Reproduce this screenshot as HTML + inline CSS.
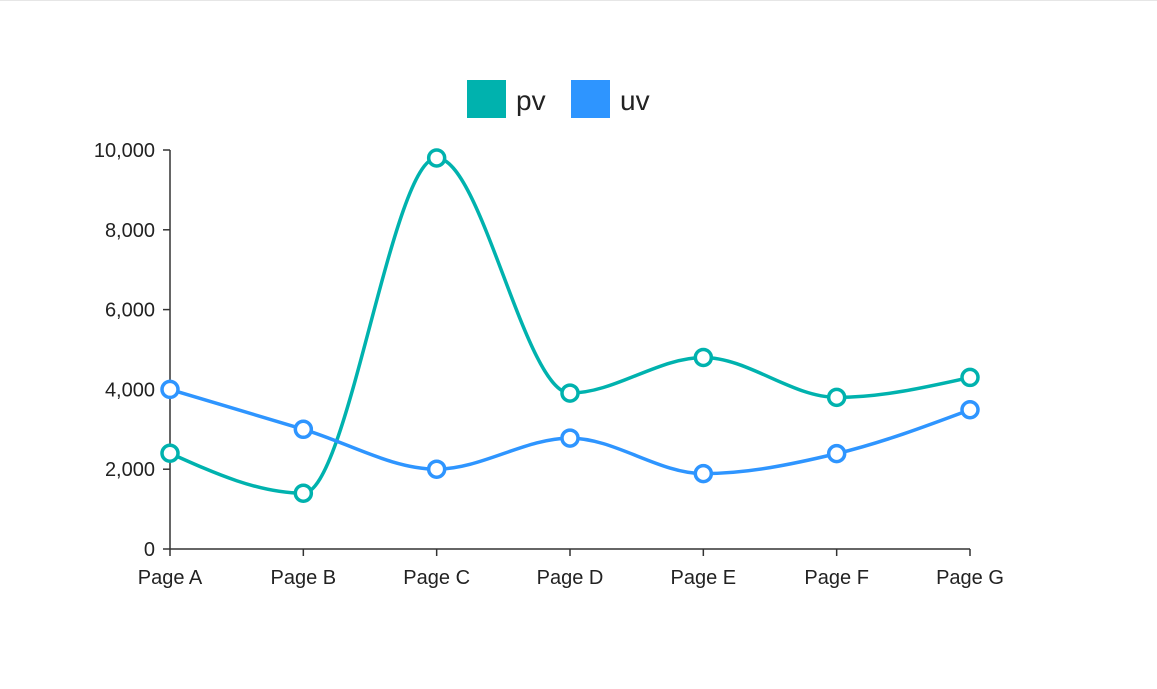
<!DOCTYPE html>
<html><head><meta charset="utf-8"><style>
body{margin:0;background:#fff;}
svg{display:block;font-family:"Liberation Sans",sans-serif;}
</style></head><body>
<svg id="chart" width="1157" height="689">
<line x1="0" y1="0.5" x2="1157" y2="0.5" stroke="#e6e6e6"/>
<g>
<g><rect x="467" y="80" width="39" height="38" fill="#00b2ae"/><text x="516" y="110" font-size="28" fill="#222">pv</text></g>
<g><rect x="571" y="80" width="39" height="38" fill="#2e95ff"/><text x="620" y="110" font-size="28" fill="#222">uv</text></g>
</g>
<g id="axes"></g><g id="series"></g>
</svg>
<script>
const categories=["Page A","Page B","Page C","Page D","Page E","Page F","Page G"];
const pvValues=[2400,1398,9800,3908,4800,3800,4300];
const uvValues=[4000,3000,2000,2780,1890,2390,3490];
const yTicks=[0,2000,4000,6000,8000,10000];
const NS="http://www.w3.org/2000/svg";
const x0=170,x1=970,yBase=549,yTop=150,yMax=10000;
const xs=i=>x0+i*(x1-x0)/(categories.length-1);
const ys=v=>yBase-(v/yMax)*(yBase-yTop);
function mk(tag,attrs,parent){const e=document.createElementNS(NS,tag);for(const k in attrs)e.setAttribute(k,attrs[k]);parent.appendChild(e);return e;}
const ax=document.getElementById('axes');
let yl=mk('line',{x1:x0,y1:yTop,x2:x0,y2:yBase,stroke:'#333','stroke-width':1.5},ax);


let xl=mk('line',{x1:x0,y1:yBase,x2:x1,y2:yBase,stroke:'#333','stroke-width':1.5},ax);


yTicks.forEach(v=>{const y=ys(v);
 mk('line',{x1:x0-7,y1:y,x2:x0,y2:y,stroke:'#333','stroke-width':1.5},ax);
 const t=mk('text',{x:x0-15,y:y+7,'text-anchor':'end','font-size':20,fill:'#222'},ax);t.textContent=v.toLocaleString('en-US');
 
 });
categories.forEach((c,i)=>{const x=xs(i);
 mk('line',{x1:x,y1:yBase,x2:x,y2:yBase+7,stroke:'#333','stroke-width':1.5},ax);
 const t=mk('text',{x:x,y:yBase+35,'text-anchor':'middle','font-size':20,fill:'#222'},ax);t.textContent=c;
 
 });
function monotone(px,py){const n=px.length,d=[],m=[];
 for(let i=0;i<n-1;i++)d.push((py[i+1]-py[i])/(px[i+1]-px[i]));
 for(let i=1;i<n-1;i++){const a=d[i-1],b=d[i];if(a*b<=0)m[i]=0;else{const h0=px[i]-px[i-1],h1=px[i+1]-px[i];const p=(a*h1+b*h0)/(h0+h1);m[i]=(Math.sign(a)+Math.sign(b))*Math.min(Math.abs(a),Math.abs(b),0.5*Math.abs(p));}}
 m[0]=(3*d[0]-m[1])/2; if(m[0]*d[0]<=0)m[0]=0;
 m[n-1]=(3*d[n-2]-m[n-2])/2; if(m[n-1]*d[n-2]<=0)m[n-1]=0;
 let s=`M${px[0]},${py[0]}`;
 for(let i=0;i<n-1;i++){const dx=(px[i+1]-px[i])/3;s+=`C${px[i]+dx},${py[i]+m[i]*dx},${px[i+1]-dx},${py[i+1]-m[i+1]*dx},${px[i+1]},${py[i+1]}`;}
 return s;}
const sg=document.getElementById('series');
[[pvValues,'#00b2ae','pv'],[uvValues,'#2e95ff','uv']].forEach(([vals,col,nm])=>{
 const px=vals.map((v,i)=>xs(i)),py=vals.map(ys);
 const p=mk('path',{d:monotone(px,py),fill:'none',stroke:col,'stroke-width':3.5},sg);
 
 
 vals.forEach((v,i)=>{const c=mk('circle',{cx:px[i],cy:py[i],r:8,fill:'#fff',stroke:col,'stroke-width':3.5},sg);
  
  });
});
</script>
</body></html>
